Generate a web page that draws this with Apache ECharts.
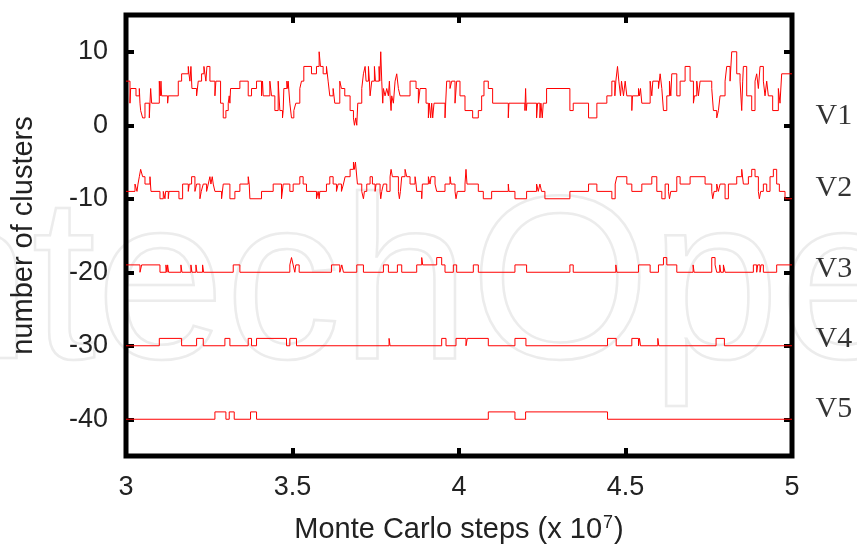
<!DOCTYPE html>
<html><head><meta charset="utf-8">
<script src="https://cdn.jsdelivr.net/npm/echarts@6/dist/echarts.min.js"></script>
<style>html,body{margin:0;padding:0;background:#fff}#c{width:857px;height:545px}</style>
</head><body><div id="c"></div>
<script>
// ---- data (x in units of 10^7 Monte Carlo steps, y = plotted cluster level) ----
const yTicks = [-40, -30, -20, -10, 0, 10];
const seriesNames = ['V1', 'V2', 'V3', 'V4', 'V5'];
const labelLevels = [1.2, -8.5, -19.6, -29.1, -38.6];

const v1 = [[3.000,6],[3.012,3],[3.014,5],[3.030,4],[3.040,5],[3.042,3],[3.044,2],[3.050,1],[3.057,3],[3.070,1],[3.072,3],[3.074,5],[3.077,3],[3.100,6],[3.103,4],[3.105,6],[3.107,4],[3.125,3],[3.127,4],[3.157,6],[3.167,7],[3.187,8],[3.189,7],[3.192,6],[3.195,8],[3.198,5],[3.212,4],[3.217,6],[3.227,7],[3.234,8],[3.240,6],[3.243,8],[3.252,6],[3.267,4],[3.270,6],[3.284,3],[3.292,1],[3.300,2],[3.307,3],[3.310,4],[3.312,3],[3.314,5],[3.342,6],[3.367,4],[3.377,5],[3.392,6],[3.407,4],[3.410,6],[3.412,4],[3.432,6],[3.437,4],[3.447,2],[3.457,6],[3.462,2],[3.470,1],[3.472,2],[3.474,5],[3.483,6],[3.486,5],[3.487,6],[3.492,3],[3.497,1],[3.504,2],[3.510,3],[3.522,5],[3.527,6],[3.534,8],[3.557,7],[3.572,8],[3.580,10],[3.584,8],[3.592,7],[3.602,8],[3.607,6],[3.612,4],[3.622,5],[3.627,3],[3.642,6],[3.647,5],[3.657,4],[3.673,2],[3.683,1],[3.686,0],[3.690,1],[3.693,0],[3.696,3],[3.708,5],[3.713,7],[3.718,8],[3.721,6],[3.728,8],[3.731,6],[3.733,4],[3.738,6],[3.746,8],[3.749,6],[3.760,8],[3.762,6],[3.765,10],[3.768,6],[3.771,3],[3.773,5],[3.778,4],[3.783,5],[3.788,4],[3.791,6],[3.793,4],[3.796,2],[3.798,4],[3.803,3],[3.808,6],[3.813,7],[3.818,5],[3.823,4],[3.853,6],[3.871,5],[3.878,3],[3.883,5],[3.901,3],[3.908,1],[3.911,3],[3.915,1],[3.918,3],[3.921,1],[3.925,3],[3.958,1],[3.963,6],[3.973,5],[3.978,6],[3.988,3],[3.993,6],[4.003,4],[4.018,2],[4.041,1],[4.058,2],[4.068,4],[4.075,6],[4.088,5],[4.101,3],[4.148,1],[4.150,3],[4.198,2],[4.200,5],[4.202,2],[4.204,3],[4.233,1],[4.236,3],[4.243,1],[4.246,3],[4.250,1],[4.253,3],[4.263,5],[4.333,2],[4.343,3],[4.389,1],[4.414,3],[4.444,4],[4.459,6],[4.468,4],[4.471,6],[4.476,8],[4.480,6],[4.485,4],[4.488,6],[4.494,4],[4.499,6],[4.504,4],[4.519,2],[4.521,4],[4.539,5],[4.542,4],[4.545,5],[4.549,3],[4.574,6],[4.579,4],[4.582,6],[4.599,5],[4.604,7],[4.609,5],[4.614,2],[4.624,4],[4.632,6],[4.636,4],[4.639,7],[4.654,4],[4.664,6],[4.679,8],[4.694,6],[4.704,3],[4.707,4],[4.714,6],[4.719,4],[4.724,6],[4.759,5],[4.764,2],[4.774,1],[4.779,2],[4.784,4],[4.799,6],[4.804,8],[4.814,6],[4.819,10],[4.834,7],[4.844,6],[4.849,2],[4.852,6],[4.854,8],[4.864,4],[4.879,2],[4.889,6],[4.894,7],[4.899,5],[4.904,8],[4.914,6],[4.919,4],[4.924,6],[4.929,4],[4.942,2],[4.959,5],[4.964,3],[4.969,7],[5.000,7]];

const v2 = [[3.000,-9],[3.027,-8],[3.033,-9],[3.036,-8],[3.040,-7],[3.044,-6],[3.050,-7],[3.057,-8],[3.072,-7],[3.075,-9],[3.102,-10],[3.112,-9],[3.117,-10],[3.119,-9],[3.127,-10],[3.129,-9],[3.159,-10],[3.170,-8],[3.187,-9],[3.190,-8],[3.197,-7],[3.207,-9],[3.212,-8],[3.222,-10],[3.226,-9],[3.232,-8],[3.242,-9],[3.247,-8],[3.252,-7],[3.255,-8],[3.259,-7],[3.262,-8],[3.267,-9],[3.287,-10],[3.292,-8],[3.312,-10],[3.327,-9],[3.342,-8],[3.367,-7],[3.370,-8],[3.372,-10],[3.407,-9],[3.442,-8],[3.467,-10],[3.472,-8],[3.492,-9],[3.502,-8],[3.522,-7],[3.532,-8],[3.542,-9],[3.572,-10],[3.577,-9],[3.580,-10],[3.582,-9],[3.602,-8],[3.612,-7],[3.622,-8],[3.632,-9],[3.637,-8],[3.647,-9],[3.653,-8],[3.658,-7],[3.673,-6],[3.683,-5],[3.686,-6],[3.689,-5],[3.695,-8],[3.708,-9],[3.713,-10],[3.716,-9],[3.723,-8],[3.733,-7],[3.740,-8],[3.748,-9],[3.751,-8],[3.763,-9],[3.765,-10],[3.768,-9],[3.773,-8],[3.783,-9],[3.793,-7],[3.796,-6],[3.800,-7],[3.818,-9],[3.821,-10],[3.824,-9],[3.828,-7],[3.838,-6],[3.843,-7],[3.853,-8],[3.868,-7],[3.871,-8],[3.873,-9],[3.888,-10],[3.890,-8],[3.908,-7],[3.913,-8],[3.916,-7],[3.928,-8],[3.933,-9],[3.958,-8],[3.973,-7],[3.976,-8],[3.988,-9],[3.991,-10],[3.995,-9],[4.018,-8],[4.021,-6],[4.024,-8],[4.058,-9],[4.073,-10],[4.098,-9],[4.148,-8],[4.150,-9],[4.168,-10],[4.203,-9],[4.233,-8],[4.238,-9],[4.243,-8],[4.248,-9],[4.258,-10],[4.333,-9],[4.389,-8],[4.414,-9],[4.459,-10],[4.469,-8],[4.474,-7],[4.504,-8],[4.519,-9],[4.549,-8],[4.579,-7],[4.594,-9],[4.609,-10],[4.619,-8],[4.629,-9],[4.632,-10],[4.636,-9],[4.654,-7],[4.664,-8],[4.694,-7],[4.739,-8],[4.759,-9],[4.762,-10],[4.766,-9],[4.774,-8],[4.779,-9],[4.784,-8],[4.799,-10],[4.809,-8],[4.834,-7],[4.849,-6],[4.854,-8],[4.869,-7],[4.879,-6],[4.889,-7],[4.899,-9],[4.902,-10],[4.906,-9],[4.914,-8],[4.924,-9],[4.934,-7],[4.944,-6],[4.954,-8],[4.962,-9],[4.979,-10],[5.000,-10]];

const v3 = [[3.000,-19],[3.042,-20],[3.047,-19],[3.102,-20],[3.120,-19],[3.123,-20],[3.125,-19],[3.128,-20],[3.165,-19],[3.168,-20],[3.195,-19],[3.198,-20],[3.210,-19],[3.213,-20],[3.230,-19],[3.233,-20],[3.322,-19],[3.342,-20],[3.492,-19],[3.497,-18],[3.502,-19],[3.507,-20],[3.510,-19],[3.520,-20],[3.617,-19],[3.642,-20],[3.648,-19],[3.653,-20],[3.693,-19],[3.713,-20],[3.773,-19],[3.788,-20],[3.815,-19],[3.828,-20],[3.873,-19],[3.888,-18],[3.891,-19],[3.933,-18],[3.948,-19],[3.958,-20],[3.983,-19],[3.993,-20],[4.043,-19],[4.058,-20],[4.168,-19],[4.203,-20],[4.333,-19],[4.343,-20],[4.471,-19],[4.474,-20],[4.539,-19],[4.574,-20],[4.599,-19],[4.614,-18],[4.624,-19],[4.654,-20],[4.703,-19],[4.706,-20],[4.759,-18],[4.769,-19],[4.774,-20],[4.783,-19],[4.786,-20],[4.794,-19],[4.799,-20],[4.884,-19],[4.894,-20],[4.897,-19],[4.904,-20],[4.907,-19],[4.914,-20],[4.954,-19],[5.000,-19]];

const v4 = [[3.000,-30],[3.100,-29],[3.167,-30],[3.212,-29],[3.232,-30],[3.297,-29],[3.312,-30],[3.367,-29],[3.377,-30],[3.392,-29],[3.482,-30],[3.492,-29],[3.512,-30],[3.790,-29],[3.793,-30],[3.948,-29],[3.961,-30],[3.991,-29],[4.021,-30],[4.025,-29],[4.088,-30],[4.168,-29],[4.201,-30],[4.446,-29],[4.472,-30],[4.519,-29],[4.539,-30],[4.542,-29],[4.545,-30],[4.597,-29],[4.600,-30],[4.772,-29],[4.797,-30],[5.000,-30]];

const v5 = [[3.000,-40],[3.267,-39],[3.300,-40],[3.310,-39],[3.325,-40],[3.374,-39],[3.392,-40],[4.088,-39],[4.168,-40],[4.200,-39],[4.446,-40],[5.000,-40]];

const allSeries = [v1, v2, v3, v4, v5];

// ---- chart ----
const chart = echarts.init(document.getElementById('c'), null, {renderer: 'canvas'});
const FONT = '"Liberation Sans", Arial, Helvetica, sans-serif';
const tickStyle = {show: true, inside: true, length: 8, lineStyle: {color: '#000', width: 4}};
const hiddenLine = {show: false, onZero: false};

const option = {
  animation: false,
  backgroundColor: '#fff',
  grid: {left: 126, right: 65, top: 15, bottom: 89, outerBoundsMode: 'none', containLabel: false,
    show: true, borderColor: '#000', borderWidth: 5, backgroundColor: 'transparent'},
  graphic: [{
    type: 'text', x: -162, y: 178, z: -10, silent: true,
    style: {text: 'IntechOpen', font: '232px "Liberation Sans", Arial, sans-serif', fill: 'rgba(255,255,255,0)', stroke: '#ececec', lineWidth: 2.5}
  }],
  xAxis: [{
    type: 'value', min: 3, max: 5, interval: 0.5, position: 'bottom',
    axisLine: hiddenLine, splitLine: {show: false}, axisTick: tickStyle,
    axisLabel: {margin: 18, fontSize: 27, fontFamily: FONT, color: '#222'},
    name: 'Monte Carlo steps (x 10{sup|7})', nameLocation: 'middle', nameGap: 58,
    nameTextStyle: {fontSize: 29, fontFamily: FONT, color: '#222', lineHeight: 32,
      rich: {sup: {fontSize: 18, fontFamily: FONT, color: '#222', verticalAlign: 'top', lineHeight: 32, padding: [0, 1, 0, 1]}}}
  }, {
    type: 'value', min: 3, max: 5, interval: 0.5, position: 'top',
    axisLine: hiddenLine, splitLine: {show: false}, axisTick: tickStyle, axisLabel: {show: false}
  }],
  yAxis: [{
    type: 'value', min: -45, max: 15, position: 'left',
    axisLine: hiddenLine, splitLine: {show: false},
    axisTick: Object.assign({customValues: yTicks}, tickStyle),
    axisLabel: {customValues: yTicks, margin: 18, fontSize: 27, fontFamily: FONT, color: '#222'},
    name: 'number of clusters', nameLocation: 'middle', nameGap: 88,
    nameTextStyle: {fontSize: 29, fontFamily: FONT, color: '#222'}
  }, {
    type: 'value', min: -45, max: 15, position: 'right',
    axisLine: hiddenLine, splitLine: {show: false},
    axisTick: Object.assign({customValues: yTicks}, tickStyle),
    axisLabel: {show: false}
  }],
  series: allSeries.map((d, i) => ({
    name: seriesNames[i], type: 'line', step: 'end', data: d,
    showSymbol: false, symbol: 'none', silent: true,
    lineStyle: {color: '#ff0000', width: 1}
  })).concat([{
    type: 'scatter', silent: true, clip: false, symbolSize: 1,
    itemStyle: {color: 'rgba(0,0,0,0)'},
    data: seriesNames.map((n, i) => ({name: n, value: [5, labelLevels[i]]})),
    label: {show: true, position: 'right', distance: 23, formatter: '{b}',
      fontFamily: '"Liberation Serif", "Times New Roman", serif', fontSize: 30, color: '#000'}
  }])
};
chart.setOption(option);
</script>
</body></html>
